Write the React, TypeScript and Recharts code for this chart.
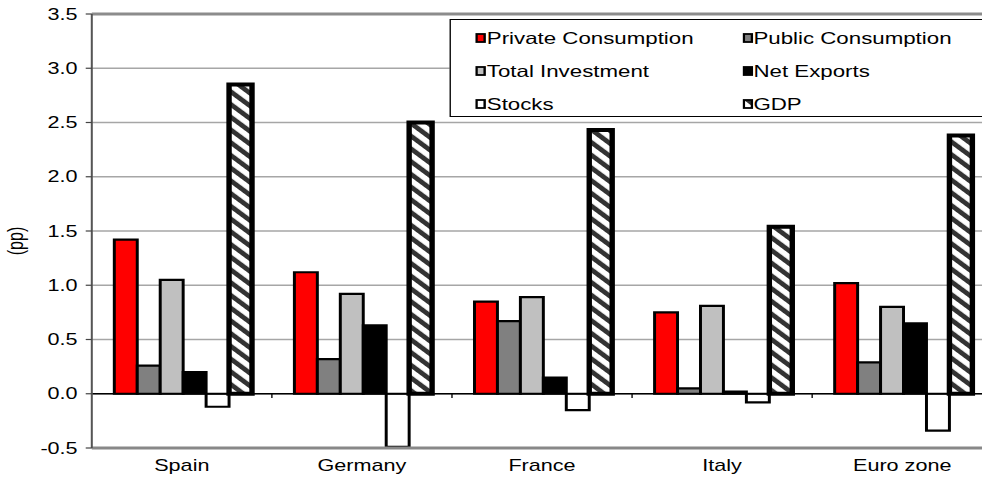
import React from 'react';
import { BarChart, Bar, XAxis, YAxis, CartesianGrid, ReferenceLine, Legend } from 'recharts';

const categories = ['Spain', 'Germany', 'France', 'Italy', 'Euro zone'];
const privateConsumption = [1.42, 1.12, 0.85, 0.75, 1.02];
const publicConsumption = [0.26, 0.32, 0.67, 0.05, 0.29];
const totalInvestment = [1.05, 0.92, 0.89, 0.81, 0.80];
const netExports = [0.20, 0.63, 0.15, 0.02, 0.65];
const stocks = [-0.12, -0.49, -0.15, -0.08, -0.34];
const gdp = [2.85, 2.50, 2.43, 1.54, 2.38];
const yTicks = [-0.5, 0, 0.5, 1.0, 1.5, 2.0, 2.5, 3.0, 3.5];

const data = categories.map((c, i) => ({
  name: c,
  priv: privateConsumption[i],
  pub: publicConsumption[i],
  inv: totalInvestment[i],
  nx: netExports[i],
  stk: stocks[i],
  gdp: gdp[i],
}));

const series = [
  { key: 'priv', name: 'Private Consumption', fill: '#ff0000', sw: 2.2 },
  { key: 'pub', name: 'Public Consumption', fill: '#808080', sw: 2.2 },
  { key: 'inv', name: 'Total Investment', fill: '#c0c0c0', sw: 2.2 },
  { key: 'nx', name: 'Net Exports', fill: '#000000', sw: 2.2 },
  { key: 'stk', name: 'Stocks', fill: '#ffffff', sw: 2.2 },
  { key: 'gdp', name: 'GDP', fill: 'url(#hatch)', sw: 4 },
];

const FONT = '"Liberation Sans", Arial, Helvetica, sans-serif';
const SX = 1.35; // horizontal stretch of the original picture

const legendOrder = [
  ['priv', 'pub'],
  ['inv', 'nx'],
  ['stk', 'gdp'],
];

const renderLegend = () => (
  <div
    style={{
      width: 520,
      height: 98,
      border: '1.5px solid #000',
      background: '#fff',
      boxSizing: 'border-box',
      fontFamily: FONT,
      fontSize: 16.5,
      color: '#000',
      position: 'relative',
    }}
  >
    {legendOrder.map((row, r) =>
      row.map((k, c) => {
        const s = series.find((x) => x.key === k)!;
        return (
          <div
            key={k}
            style={{
              position: 'absolute',
              left: c === 0 ? 18.5 : 216,
              top: 8 + r * 33,
              display: 'flex',
              alignItems: 'center',
              whiteSpace: 'nowrap',
              lineHeight: '20px',
            }}
          >
            <svg width={8} height={10} style={{ marginRight: 0.5 }}>
              <rect x={1} y={1} width={6} height={8} fill={s.fill} stroke="#000" strokeWidth={1.8} />
            </svg>
            <span>{s.name}</span>
          </div>
        );
      })
    )}
  </div>
);

const boundaries = ['Germany', 'France', 'Italy', 'Euro zone'];

export default function App() {
  return (
    <div
      style={{
        position: 'fixed',
        left: 0,
        top: 0,
        width: 982,
        height: 482,
        overflow: 'hidden',
        background: '#fff',
      }}
    >
      <div style={{ transform: `scaleX(${SX})`, transformOrigin: '0 0', width: 735, height: 482 }}>
        <BarChart
          width={735}
          height={482}
          data={data}
          margin={{ top: 14, right: 0, bottom: 0, left: 0 }}
          barCategoryGap="12.5%"
          barGap={0}
        >
          <defs>
            <pattern id="hatch" patternUnits="userSpaceOnUse" width={9} height={9} patternTransform="rotate(-45)">
              <rect x={0} y={0} width={9} height={9} fill="#fff" />
              <rect x={0} y={0} width={4.2} height={9} fill="#333" />
            </pattern>
          </defs>
          <CartesianGrid horizontal vertical={false} stroke="#a6a6a6" strokeWidth={1.5} />
          <XAxis
            dataKey="name"
            height={34}
            tickLine={false}
            axisLine={{ stroke: '#888', strokeWidth: 3 }}
            tick={{ fill: '#000', fontSize: 16, fontFamily: FONT, dy: 4 }}
            interval={0}
          />
          <YAxis
            width={68}
            domain={[-0.5, 3.5]}
            ticks={yTicks}
            interval={0}
            tickFormatter={(v: number) => v.toFixed(1)}
            tick={{ fill: '#000', fontSize: 16, fontFamily: FONT }}
            tickLine={{ stroke: '#444', strokeWidth: 1.2 }}
            tickSize={4.5}
            tickMargin={6}
            axisLine={{ stroke: '#555', strokeWidth: 1.5 }}
            label={{
              value: '(pp)',
              angle: -90,
              position: 'insideLeft',
              offset: 11,
              dy: 10,
              style: { textAnchor: 'middle', fill: '#000', fontSize: 16, fontFamily: FONT },
            }}
          />
          <ReferenceLine y={3.5} stroke="#8c8c8c" strokeWidth={3} />
          <Legend
            content={renderLegend}
            layout="horizontal"
            verticalAlign="middle"
            align="center"
            wrapperStyle={{ position: 'absolute', left: 332.6, top: 19, width: 520, height: 98 }}
          />
          {series.map((s) => (
            <Bar
              key={s.key}
              dataKey={s.key}
              name={s.name}
              fill={s.fill}
              stroke="#000"
              strokeWidth={s.sw}
              isAnimationActive={false}
            />
          ))}
          <ReferenceLine y={0} stroke="#000" strokeWidth={1.3} />
          {boundaries.map((b) => (
            <ReferenceLine
              key={b}
              segment={[
                { x: b, y: 0 },
                { x: b, y: -0.04 },
              ]}
              position="start"
              stroke="#000"
              strokeWidth={1}
            />
          ))}
        </BarChart>
      </div>
    </div>
  );
}
